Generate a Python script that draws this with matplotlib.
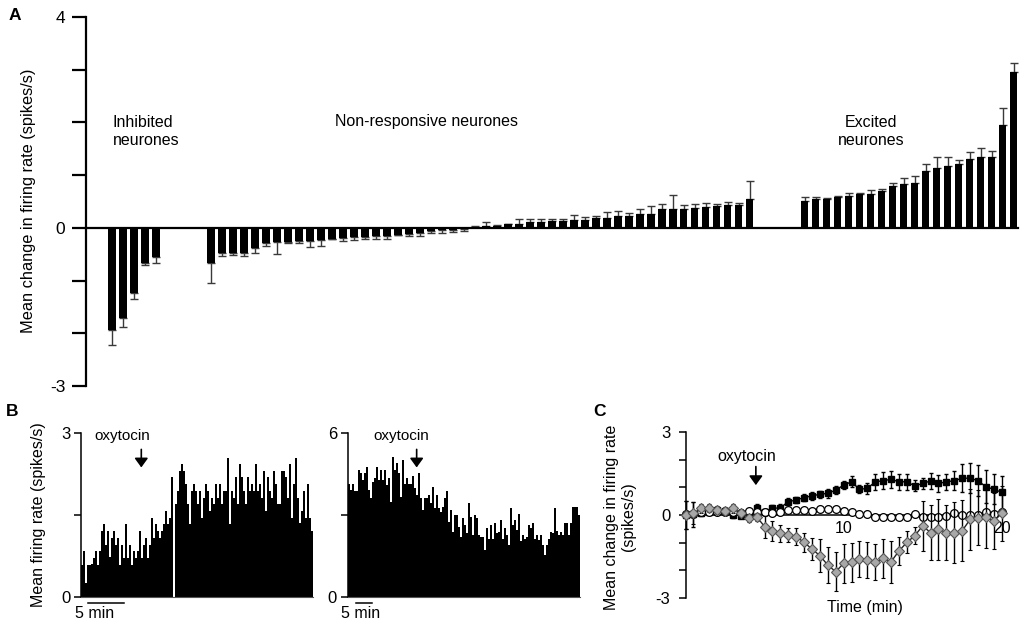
import numpy as np
import matplotlib
matplotlib.use('Agg')
import matplotlib.pyplot as plt

plt.rcParams['font.family'] = ['Liberation Sans', 'DejaVu Sans']

# ---------------- Panel A data ----------------
inhib_vals = [-1.93, -1.71, -1.23, -0.67, -0.55]
inhib_sem = [0.29, 0.18, 0.12, 0.04, 0.12]

nonresp_vals = [-0.67, -0.48, -0.47, -0.47, -0.39, -0.29, -0.26, -0.26, -0.24, -0.24,
                -0.23, -0.22, -0.20, -0.18, -0.18, -0.15, -0.15, -0.13, -0.12, -0.10,
                -0.06, -0.05, -0.04, -0.03, 0.01, 0.04, 0.04, 0.07, 0.08, 0.11,
                0.11, 0.13, 0.13, 0.15, 0.15, 0.19, 0.19, 0.22, 0.22, 0.27,
                0.27, 0.35, 0.36, 0.36, 0.38, 0.40, 0.41, 0.44, 0.44, 0.55]
nonresp_sem = [0.37, 0.05, 0.04, 0.06, 0.08, 0.05, 0.23, 0.03, 0.05, 0.13,
               0.11, 0.00, 0.05, 0.05, 0.04, 0.07, 0.07, 0.00, 0.03, 0.05,
               0.03, 0.04, 0.04, 0.03, 0.02, 0.07, 0.02, 0.00, 0.09, 0.05,
               0.05, 0.03, 0.04, 0.10, 0.06, 0.04, 0.11, 0.10, 0.06, 0.09,
               0.14, 0.11, 0.27, 0.07, 0.08, 0.08, 0.05, 0.05, 0.03, 0.33]

excit_vals = [0.51, 0.54, 0.54, 0.59, 0.61, 0.64, 0.65, 0.70, 0.79, 0.83,
              0.86, 1.07, 1.14, 1.18, 1.22, 1.31, 1.35, 1.35, 1.96, 2.96]
excit_sem = [0.08, 0.05, 0.03, 0.02, 0.05, 0.02, 0.06, 0.03, 0.06, 0.12,
             0.13, 0.14, 0.21, 0.17, 0.06, 0.13, 0.17, 0.11, 0.31, 0.17]

group_labels = ["Inhibited\nneurones", "Non-responsive neurones", "Excited\nneurones"]

# ---------------- Panel B data ----------------
left_rate = [0.59, 0.84, 0.25, 0.59, 0.59, 0.61, 0.72, 0.84, 0.59, 0.84,
             1.21, 1.33, 0.96, 1.21, 0.73, 1.08, 1.21, 0.96, 1.08, 0.59,
             0.96, 0.72, 1.33, 0.72, 0.96, 0.59, 0.84, 0.72, 0.84, 1.21,
             0.72, 0.96, 1.08, 0.72, 0.96, 1.45, 1.08, 1.33, 1.21, 1.08,
             1.21, 1.33, 1.57, 1.33, 1.45, 2.19, 0.0, 1.70, 1.94, 2.31,
             2.43, 2.31, 2.06, 1.70, 1.33, 1.94, 2.06, 1.94, 1.70, 1.94,
             1.45, 1.82, 2.06, 1.94, 1.57, 1.82, 1.70, 2.06, 1.82, 2.06,
             1.70, 1.94, 1.94, 2.55, 1.33, 1.94, 1.82, 2.19, 1.70, 2.43,
             2.19, 1.94, 1.70, 2.19, 1.94, 2.06, 1.94, 2.43, 1.94, 2.06,
             1.82, 2.31, 1.57, 2.19, 1.94, 1.82, 2.31, 2.06,
             1.70, 1.70, 2.31, 2.31, 2.19, 1.82, 2.43, 1.45, 2.06, 2.55,
             1.82, 1.35, 1.57, 1.94, 1.45, 2.06, 1.45, 1.21]
right_rate = [4.12, 3.92, 4.12, 3.86, 3.86, 4.65, 4.53, 4.28, 4.53, 4.74,
              3.92, 3.61, 4.22, 4.35, 4.74, 4.28, 4.65, 4.28, 4.65, 4.10,
              4.35, 3.49, 5.14, 4.65, 4.90, 4.53, 3.67, 5.02, 4.12, 4.35,
              4.12, 4.12, 4.41, 3.98, 3.73, 4.53, 3.61, 3.18, 3.61, 3.61,
              3.73, 3.43, 4.04, 3.24, 3.73, 3.24, 3.12, 3.30, 3.61, 3.86,
              2.75, 3.18, 2.39, 3.00, 3.00, 2.57, 2.20, 2.88, 2.63, 2.33,
              3.43, 2.94, 2.26, 3.00, 2.88, 2.26, 2.20, 2.20, 1.71, 2.51,
              2.14, 2.63, 2.14, 2.69, 2.33, 2.39, 2.82, 2.14, 2.51, 2.26,
              1.90, 3.24, 2.63, 2.82, 2.45, 3.02, 2.04, 2.26, 2.14, 2.20,
              2.63, 2.51, 2.69, 2.14, 2.26, 2.08, 2.26, 1.92, 1.53, 1.90,
              2.14, 2.39, 2.33, 3.24, 2.41, 2.26, 2.39, 2.26, 2.69, 2.69,
              2.26, 2.69, 3.30, 3.30, 3.30, 3.00]
left_bin_min = 0.28
right_bin_min = 0.625
left_oxy_min = 8.4
right_oxy_min = 21.5

# ---------------- Panel C data ----------------
time_min = np.arange(0, 20.5, 0.5)
exc_mean = [0.00, 0.02, 0.08, 0.12, 0.18, 0.15, 0.00, -0.02, 0.00, 0.24,
            0.12, 0.24, 0.26, 0.48, 0.54, 0.63, 0.69, 0.75, 0.78, 0.90,
            1.08, 1.20, 0.93, 0.96, 1.20, 1.24, 1.29, 1.20, 1.20, 1.05,
            1.14, 1.23, 1.14, 1.20, 1.24, 1.33, 1.33, 1.24, 1.02, 0.93, 0.82]
exc_sem = [0.50, 0.45, 0.10, 0.10, 0.10, 0.10, 0.10, 0.10, 0.10, 0.15,
           0.10, 0.12, 0.12, 0.12, 0.12, 0.13, 0.13, 0.13, 0.15, 0.15,
           0.15, 0.20, 0.15, 0.20, 0.30, 0.30, 0.30, 0.30, 0.30, 0.20,
           0.20, 0.30, 0.30, 0.30, 0.35, 0.50, 0.55, 0.55, 0.60, 0.55, 0.60]
non_mean = [0.05, 0.05, 0.10, 0.12, 0.10, 0.10, 0.12, 0.08, 0.15, 0.10,
            0.12, 0.08, 0.10, 0.18, 0.18, 0.18, 0.15, 0.20, 0.20, 0.20,
            0.15, 0.10, 0.05, 0.02, -0.06, -0.08, -0.08, -0.08, -0.08, 0.02,
            -0.08, -0.08, -0.08, -0.02, 0.06, 0.00, 0.00, 0.00, 0.12, 0.05, 0.10]
non_sem = [0.05] * 41
inh_mean = [0.00, 0.06, 0.24, 0.26, 0.18, 0.15, 0.24, 0.06, -0.10, -0.06,
            -0.42, -0.58, -0.66, -0.72, -0.78, -0.99, -1.23, -1.47, -1.81, -2.05,
            -1.75, -1.71, -1.59, -1.63, -1.71, -1.57, -1.69, -1.30, -0.99, -0.75,
            -0.39, -0.64, -0.51, -0.64, -0.64, -0.57, -0.16, -0.10, -0.08, -0.22, 0.06]
inh_sem = [0.50, 0.40, 0.15, 0.15, 0.15, 0.15, 0.15, 0.15, 0.15, 0.15,
           0.40, 0.35, 0.30, 0.25, 0.30, 0.35, 0.40, 0.60, 0.65, 0.70,
           0.70, 0.70, 0.65, 0.65, 0.65, 0.70, 0.75, 0.50, 0.40, 0.30,
           0.90, 1.00, 1.10, 1.00, 1.10, 1.10, 1.10, 1.00, 1.10, 1.00, 1.00]
c_oxy_min = 4.45

# ---------------- Figure ----------------
W, H = 1028, 623
fig = plt.figure(figsize=(W / 100, H / 100), dpi=100)


def rect(l, t, r, b):
    return [l / W, 1 - b / H, (r - l) / W, (b - t) / H]


def fpos(x, y):
    return x / W, 1 - y / H


# ---- Panel A ----
axA = fig.add_axes(rect(86, 17, 1018, 386))
gap = 4
groups = [(inhib_vals, inhib_sem), (nonresp_vals, nonresp_sem), (excit_vals, excit_sem)]
start = 0
for vals, sem in groups:
    v = np.array(vals)
    s = np.array(sem)
    x = start + np.arange(len(v))
    lower = np.where(v < 0, s, 0)
    upper = np.where(v >= 0, s, 0)
    axA.errorbar(x, v, yerr=[lower, upper], fmt='none', ecolor='#3a3a3a',
                 elinewidth=1.0, capsize=2.6, capthick=1.0, zorder=2)
    axA.bar(x, v, width=0.7, color='black', linewidth=0, zorder=3)
    start = start + len(v) + gap
axA.set_xlim(-2.34, 82.4)
axA.set_ylim(-3, 4)
axA.set_yticks(range(-3, 5))
axA.set_yticklabels(['-3', '', '', '0', '', '', '', '4'])
for sp in ['top', 'right']:
    axA.spines[sp].set_visible(False)
axA.spines['bottom'].set_position(('data', 0))
axA.spines['bottom'].set_linewidth(1.6)
axA.spines['left'].set_linewidth(1.6)
axA.set_xticks([])
axA.tick_params(axis='y', direction='out', length=10, width=1.6, labelsize=12.5, pad=5)

fig.text(*fpos(112.7, 131.7), group_labels[0], ha='left', va='center', fontsize=11.5,
         linespacing=1.25)
fig.text(*fpos(335, 121.7), group_labels[1], ha='left', va='center', fontsize=11.5)
fig.text(*fpos(871, 131.7), group_labels[2], ha='center', va='center', fontsize=11.5,
         linespacing=1.25, multialignment='center')
fig.text(*fpos(29, 201), 'Mean change in firing rate (spikes/s)', rotation=90,
         ha='center', va='center', fontsize=11.8)
fig.text(*fpos(15, 16), 'A', ha='center', va='center', fontsize=12.5, fontweight='bold')

# ---- Panel B ----
def hist_panel(ax, rate, binw, ymax, oxy, text_dx):
    r = np.array(rate)
    edges = np.arange(len(r) + 1) * binw
    ax.stairs(r, edges, fill=True, color='black', linewidth=0)
    ax.set_xlim(0, edges[-1])
    ax.set_ylim(0, ymax)
    ax.set_yticks([0, ymax / 2, ymax])
    ax.set_yticklabels(['0', '', f'{ymax:g}'])
    ax.set_xticks([])
    for sp in ['top', 'right']:
        ax.spines[sp].set_visible(False)
    ax.spines['left'].set_linewidth(1.1)
    ax.spines['bottom'].set_linewidth(0.8)
    ax.spines['bottom'].set_color('#555555')
    ax.tick_params(axis='y', direction='out', length=5, width=1.1, labelsize=12, pad=3)
    ax.annotate('', xy=(oxy, ymax * 0.79), xytext=(oxy, ymax * 0.90),
                arrowprops=dict(arrowstyle='-|>,head_length=0.55,head_width=0.4',
                                color='black', lw=1.2, shrinkA=0, shrinkB=0),
                annotation_clip=False)
    ax.text(oxy + text_dx, ymax * 0.98, 'oxytocin', ha='center', va='center', fontsize=11)


axB1 = fig.add_axes(rect(81.3, 433, 313.3, 597))
hist_panel(axB1, left_rate, left_bin_min, 3, left_oxy_min, -2.65)
axB2 = fig.add_axes(rect(348, 433, 579.5, 597))
hist_panel(axB2, right_rate, right_bin_min, 6, right_oxy_min, -4.8)

# scale bars (5 min)
axB1.plot([0.94, 5.94], [-0.11, -0.11], color='black', lw=1.1, clip_on=False)
axB1.text(-0.94, -0.31, '5 min', ha='left', va='center', fontsize=11.5)
axB2.plot([2.41, 7.41], [-0.22, -0.22], color='black', lw=1.1, clip_on=False)
axB2.text(-2.19, -0.62, '5 min', ha='left', va='center', fontsize=11.5)

fig.text(*fpos(39, 515), 'Mean firing rate (spikes/s)', rotation=90,
         ha='center', va='center', fontsize=11.5)
fig.text(*fpos(12, 412), 'B', ha='center', va='center', fontsize=12.5, fontweight='bold')

# ---- Panel C ----
axC = fig.add_axes(rect(685.5, 432, 1003.3, 598))
axC.errorbar(time_min, exc_mean, yerr=exc_sem, fmt='-s', color='black', ms=4.6,
             mfc='black', mec='black', lw=1.0, elinewidth=1.0, capsize=1.6,
             clip_on=False, zorder=3)
axC.errorbar(time_min, non_mean, yerr=non_sem, fmt='-o', color='black', ms=5.6,
             mfc='white', mec='black', mew=0.9, lw=1.0, elinewidth=1.0, capsize=1.6,
             clip_on=False, zorder=4)
axC.errorbar(time_min, inh_mean, yerr=inh_sem, fmt='-D', color='#222222', ms=4.8,
             mfc='#a8a8a8', mec='#555555', mew=0.8, lw=1.0, elinewidth=1.0,
             ecolor='black', capsize=1.6, clip_on=False, zorder=5)
axC.set_xlim(0, 20.1)
axC.set_ylim(-3, 3)
axC.set_yticks(range(-3, 4))
axC.set_yticklabels(['-3', '', '', '0', '', '', '3'])
axC.set_xticks([10, 20])
axC.set_xticklabels(['10', '20'])
axC.get_xticklabels()[1].set_ha('left')
for sp in ['top', 'right']:
    axC.spines[sp].set_visible(False)
axC.spines['bottom'].set_position(('data', 0))
axC.spines['bottom'].set_linewidth(1.1)
axC.spines['left'].set_linewidth(1.1)
axC.tick_params(axis='y', direction='out', length=5, width=1.1, labelsize=12, pad=6)
axC.tick_params(axis='x', length=0, labelsize=11.5, pad=4)
axC.annotate('', xy=(c_oxy_min, 1.08), xytext=(c_oxy_min, 1.75),
             arrowprops=dict(arrowstyle='-|>,head_length=0.55,head_width=0.4',
                             color='black', lw=1.2, shrinkA=0, shrinkB=0))
axC.text(c_oxy_min - 0.55, 2.12, 'oxytocin', ha='center', va='center', fontsize=11.5)
axC.text(0.565, -0.058, 'Time (min)', transform=axC.transAxes, ha='center', va='center',
         fontsize=11.5)
fig.text(*fpos(620, 517), 'Mean change in firing rate\n(spikes/s)', rotation=90,
         ha='center', va='center', fontsize=11.5, multialignment='center', linespacing=1.15)
fig.text(*fpos(599, 411), 'C', ha='center', va='center', fontsize=12.5, fontweight='bold')

fig.savefig('out.png', dpi=100)
